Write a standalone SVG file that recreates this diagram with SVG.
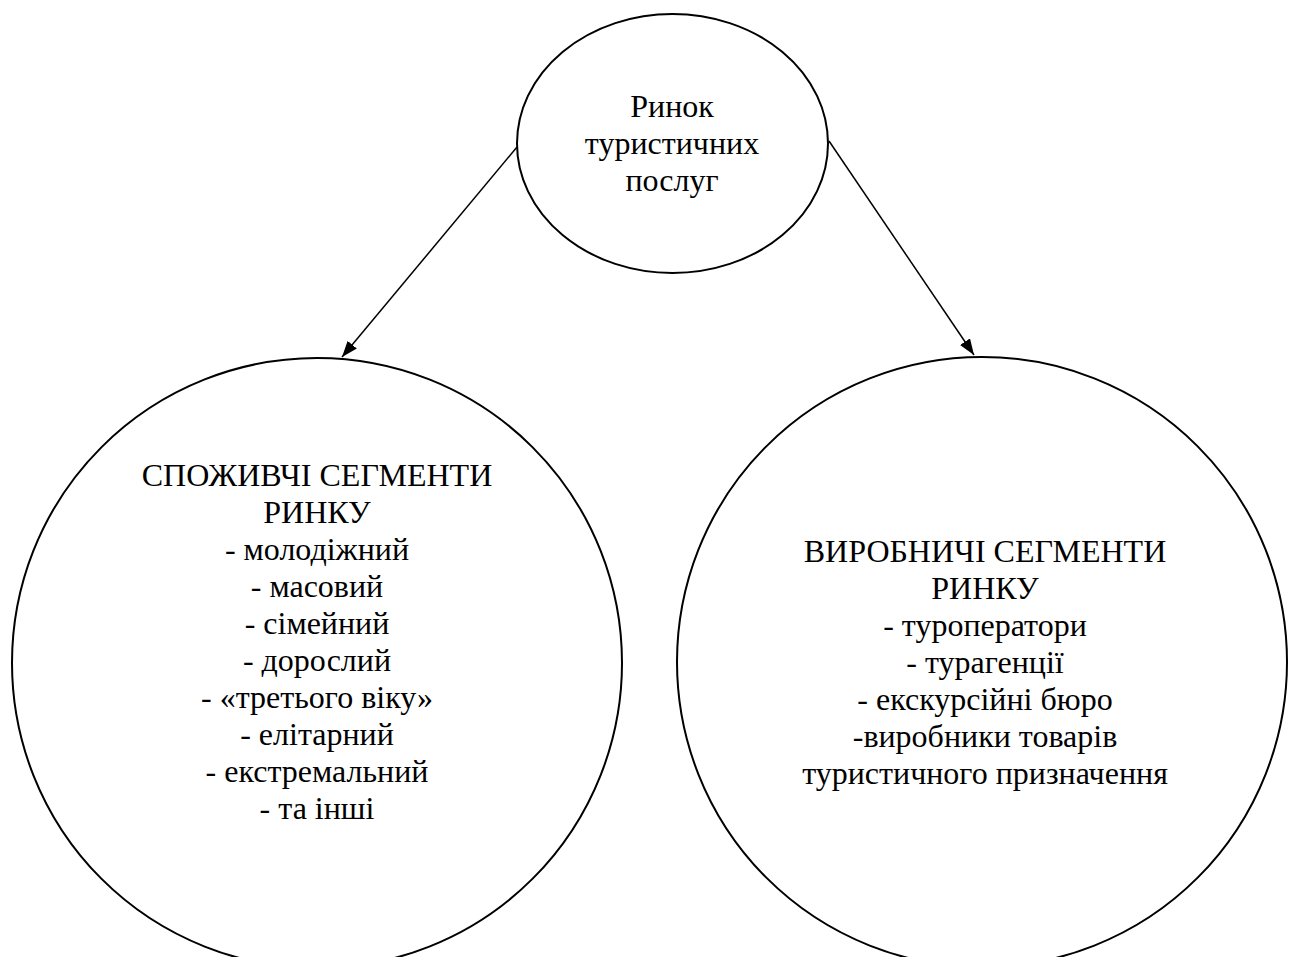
<svg xmlns="http://www.w3.org/2000/svg" width="1295" height="957" viewBox="0 0 1295 957">
<style>
.shape{fill:#fff;stroke:#000;stroke-width:2}
.conn{stroke:#000;stroke-width:1.5;fill:none}
text{font-family:"Liberation Serif","Times New Roman",serif;font-size:32px;fill:#000;text-anchor:middle}
</style>
<defs>
<marker id="arr" viewBox="0 0 16 12" refX="16" refY="6" markerWidth="16" markerHeight="12" markerUnits="userSpaceOnUse" orient="auto">
<path d="M0,0 L16,6 L0,12 z" fill="#000"/>
</marker>
</defs>
<rect width="1295" height="957" fill="#fff"/>
<g id="node-top">
<ellipse class="shape" cx="672.5" cy="143.5" rx="155.5" ry="129.5"/>
<text x="672" y="117">Ринок</text>
<text x="672" y="154">туристичних</text>
<text x="672" y="191">послуг</text>
</g>
<g id="node-left">
<circle class="shape" cx="317" cy="663" r="305"/>
<text x="317" y="486">СПОЖИВЧІ СЕГМЕНТИ</text>
<text x="317" y="523">РИНКУ</text>
<text x="317" y="560">- молодіжний</text>
<text x="317" y="597">- масовий</text>
<text x="317" y="634">- сімейний</text>
<text x="317" y="671">- дорослий</text>
<text x="317" y="708">- «третього віку»</text>
<text x="317" y="745">- елітарний</text>
<text x="317" y="782">- екстремальний</text>
<text x="317" y="819">- та інші</text>
</g>
<g id="node-right">
<circle class="shape" cx="982" cy="662" r="305"/>
<text x="985" y="562">ВИРОБНИЧІ СЕГМЕНТИ</text>
<text x="985" y="599">РИНКУ</text>
<text x="985" y="636">- туроператори</text>
<text x="985" y="673">- турагенції</text>
<text x="985" y="710">- екскурсійні бюро</text>
<text x="985" y="747">-виробники товарів</text>
<text x="985" y="784">туристичного призначення</text>
</g>
<g id="connectors">
<line class="conn" x1="517" y1="147" x2="342" y2="357" marker-end="url(#arr)"/>
<line class="conn" x1="829" y1="141" x2="974" y2="355" marker-end="url(#arr)"/>
</g>
</svg>
